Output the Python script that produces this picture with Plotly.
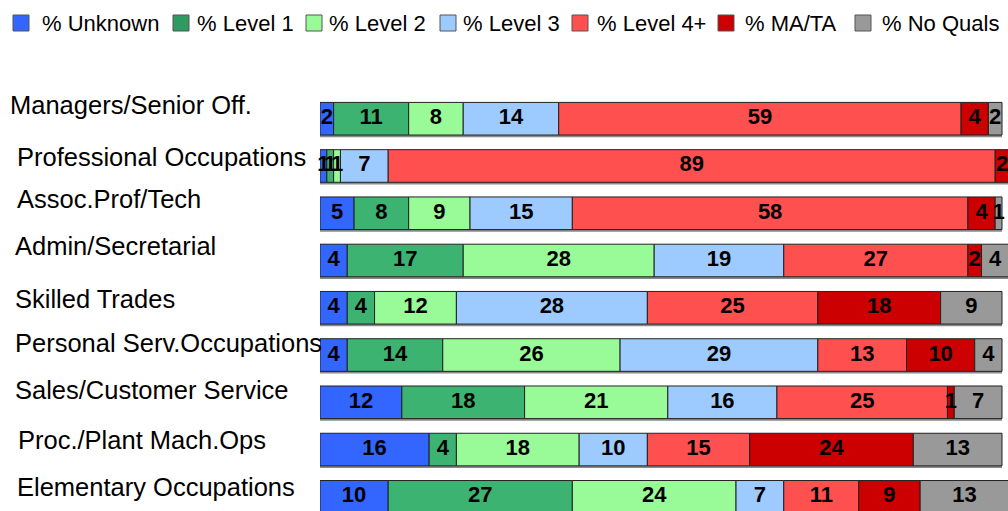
import plotly.graph_objects as go

# Occupation groups, top to bottom
categories = [
    "Managers/Senior Off.",
    "Professional Occupations",
    "Assoc.Prof/Tech",
    "Admin/Secretarial",
    "Skilled Trades",
    "Personal Serv.Occupations",
    "Sales/Customer Service",
    "Proc./Plant Mach.Ops",
    "Elementary Occupations",
]

# Share of workers (%) by highest qualification
pct_unknown = [2, 1, 5, 4, 4, 4, 12, 16, 10]
pct_level1 = [11, 1, 8, 17, 4, 14, 18, 4, 27]
pct_level2 = [8, 1, 9, 28, 12, 26, 21, 18, 24]
pct_level3 = [14, 7, 15, 19, 28, 29, 16, 10, 7]
pct_level4 = [59, 89, 58, 27, 25, 13, 25, 15, 11]
pct_mata = [4, 2, 4, 2, 18, 10, 1, 24, 9]
pct_noquals = [2, 0, 1, 4, 9, 4, 7, 13, 13]

series_names = ["% Unknown", "% Level 1", "% Level 2", "% Level 3",
                "% Level 4+", "% MA/TA", "% No Quals"]
series_values = [pct_unknown, pct_level1, pct_level2, pct_level3,
                 pct_level4, pct_mata, pct_noquals]
series_colors = ["#3366ff", "#3cb371", "#98fb98", "#9ecbff",
                 "#ff5050", "#cc0000", "#999999"]
key_colors = ["#3366ff", "#2e9a62", "#98fb98", "#9ecbff",
              "#ff5050", "#cc0000", "#999999"]

# key row along the top: swatch left edges and caption starts (px)
key_swatch_px = [13, 173, 306, 440, 572, 718, 855]
key_text_px = [40, 195, 327, 461, 595, 743, 880]
KEY_TOP, KEY_SIZE = 15, 16

FONT = "Arial, 'Liberation Sans', sans-serif"
W, H = 1008, 511
M_LEFT, M_TOP = 320, 62
BAR_W = 0.69

fig = go.Figure()

# running left edge of each segment within a row
starts = [0] * len(categories)
totals = [sum(v) for v in zip(*series_values)]

# soft drop shadow under each row
fig.add_trace(go.Bar(
    y=categories, x=totals, base=[0] * len(categories), orientation="h",
    width=BAR_W, offset=-BAR_W / 2 + 0.045,
    marker=dict(color="#8a8a8a", line=dict(width=0)),
    showlegend=False, hoverinfo="skip",
))

label_x, label_y, label_t = [], [], []
for name, vals, col in zip(series_names, series_values, series_colors):
    fig.add_trace(go.Bar(
        y=categories, x=vals, base=list(starts), orientation="h",
        name=name, width=BAR_W, showlegend=False,
        marker=dict(color=col, line=dict(color="#222222", width=1)),
    ))
    for i, v in enumerate(vals):
        label_x.append(starts[i] + v / 2)
        label_y.append(categories[i])
        label_t.append(str(v))
        starts[i] += v

# segment value labels
fig.add_trace(go.Scatter(
    x=label_x, y=label_y, text=label_t, mode="text",
    textposition="middle center", cliponaxis=False,
    textfont=dict(family=FONT, size=22, color="#000000", weight="bold"),
    showlegend=False, hoverinfo="skip",
))

plot_w = W - M_LEFT
plot_h = H - M_TOP


def px_to_paper_x(px):
    return (px - M_LEFT) / plot_w


def px_to_paper_y(py):
    return (H - py) / plot_h


# row captions sit left-aligned, a little above each bar
caption_px = [8, 15, 15, 13, 13, 13, 13, 16, 15]
caption_lift = [14, 9, 14, 15, 9, 12, 12, 10, 10]
for cat, px, lift in zip(categories, caption_px, caption_lift):
    fig.add_annotation(
        x=px_to_paper_x(px), xref="paper", xanchor="left",
        y=cat, yref="y", yanchor="middle", yshift=lift,
        text=cat, showarrow=False,
        font=dict(family=FONT, size=25.5, color="#000000"),
    )

# colour key across the top
for name, col, sx, tx in zip(series_names, key_colors, key_swatch_px, key_text_px):
    fig.add_shape(
        type="rect", xref="paper", yref="paper",
        x0=px_to_paper_x(sx), x1=px_to_paper_x(sx + KEY_SIZE),
        y0=px_to_paper_y(KEY_TOP + KEY_SIZE), y1=px_to_paper_y(KEY_TOP),
        fillcolor=col, line=dict(color="#555555", width=1), layer="above",
    )
    fig.add_annotation(
        x=px_to_paper_x(tx), xref="paper", xanchor="left",
        y=px_to_paper_y(KEY_TOP + KEY_SIZE / 2 + 1), yref="paper", yanchor="middle",
        text=name, showarrow=False,
        font=dict(family=FONT, size=22, color="#000000"),
    )

x_max = 100 * plot_w / 682
fig.update_layout(
    width=W, height=H,
    margin=dict(l=M_LEFT, r=0, t=M_TOP, b=0, pad=0, autoexpand=False),
    barmode="overlay",
    plot_bgcolor="white", paper_bgcolor="white",
    font=dict(family=FONT, color="#000000"),
    xaxis=dict(range=[0, x_max], visible=False, fixedrange=True),
    yaxis=dict(type="category", categoryorder="array", categoryarray=categories,
               range=[8.3, -1.2], visible=False, fixedrange=True),
    showlegend=False,
)

fig.write_html("out.html")
